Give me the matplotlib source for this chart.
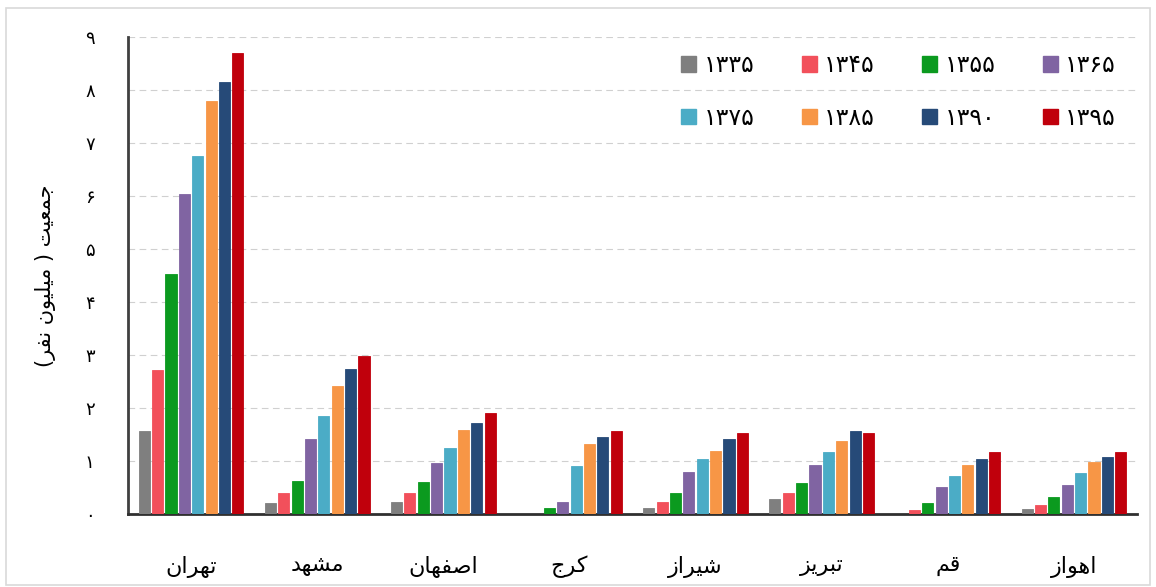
import matplotlib
matplotlib.use("Agg")
import matplotlib.pyplot as plt
from matplotlib.patches import Patch, Rectangle
import numpy as np

# city population by census year (million people)
cities = ["تهران", "مشهد", "اصفهان", "کرج", "شیراز", "تبریز", "قم", "اهواز"]
years = ["۱۳۳۵", "۱۳۴۵", "۱۳۵۵", "۱۳۶۵", "۱۳۷۵", "۱۳۸۵", "۱۳۹۰", "۱۳۹۵"]
pop_1335 = [1.56, 0.20, 0.23, 0.00, 0.12, 0.28, 0.00, 0.10]
pop_1345 = [2.72, 0.40, 0.40, 0.00, 0.22, 0.39, 0.07, 0.16]
pop_1355 = [4.53, 0.62, 0.61, 0.11, 0.39, 0.58, 0.20, 0.32]
pop_1365 = [6.04, 1.42, 0.97, 0.22, 0.80, 0.92, 0.51, 0.55]
pop_1375 = [6.76, 1.85, 1.25, 0.91, 1.04, 1.16, 0.72, 0.77]
pop_1385 = [7.80, 2.41, 1.58, 1.32, 1.19, 1.38, 0.92, 0.99]
pop_1390 = [8.16, 2.73, 1.72, 1.45, 1.42, 1.57, 1.04, 1.08]
pop_1395 = [8.70, 2.98, 1.91, 1.57, 1.53, 1.53, 1.16, 1.16]
series = [pop_1335, pop_1345, pop_1355, pop_1365, pop_1375, pop_1385, pop_1390, pop_1395]
colors = ["#7f7f7f", "#f2505b", "#0b9a1f", "#8064a2", "#4bacc6", "#f79646", "#264a78", "#c0000c"]
y_ticks = [0, 1, 2, 3, 4, 5, 6, 7, 8, 9]
y_label = "جمعیت ( میلیون نفر)"

# matplotlib does no arabic shaping, so map letters to presentation forms by hand
# (isolated, final, initial, medial)
FORMS = {
    "ا": ("\uFE8D", "\uFE8E"), "د": ("\uFEA9", "\uFEAA"), "ر": ("\uFEAD", "\uFEAE"),
    "ز": ("\uFEAF", "\uFEB0"), "و": ("\uFEED", "\uFEEE"),
    "ب": ("\uFE8F", "\uFE90", "\uFE91", "\uFE92"), "ت": ("\uFE95", "\uFE96", "\uFE97", "\uFE98"),
    "ج": ("\uFE9D", "\uFE9E", "\uFE9F", "\uFEA0"), "ش": ("\uFEB5", "\uFEB6", "\uFEB7", "\uFEB8"),
    "ص": ("\uFEB9", "\uFEBA", "\uFEBB", "\uFEBC"), "ع": ("\uFEC9", "\uFECA", "\uFECB", "\uFECC"),
    "ف": ("\uFED1", "\uFED2", "\uFED3", "\uFED4"), "ق": ("\uFED5", "\uFED6", "\uFED7", "\uFED8"),
    "ل": ("\uFEDD", "\uFEDE", "\uFEDF", "\uFEE0"), "م": ("\uFEE1", "\uFEE2", "\uFEE3", "\uFEE4"),
    "ن": ("\uFEE5", "\uFEE6", "\uFEE7", "\uFEE8"), "ه": ("\uFEE9", "\uFEEA", "\uFEEB", "\uFEEC"),
    "ک": ("\uFB8E", "\uFB8F", "\uFB90", "\uFB91"), "ی": ("\uFBFC", "\uFBFD", "\uFBFE", "\uFBFF"),
}


def fa(text):
    out = []
    for i, ch in enumerate(text):
        if ch not in FORMS:
            out.append(ch)
            continue
        prev = text[i - 1] if i > 0 else ""
        nxt = text[i + 1] if i + 1 < len(text) else ""
        jp = prev in FORMS and len(FORMS[prev]) == 4
        jn = len(FORMS[ch]) == 4 and nxt in FORMS
        f = FORMS[ch]
        if jp and jn:
            out.append(f[3])
        elif jp:
            out.append(f[1])
        elif jn:
            out.append(f[2])
        else:
            out.append(f[0])
    vis = "".join(out)[::-1]
    return vis.translate(str.maketrans("()", ")("))


persian_digits = "۰۱۲۳۴۵۶۷۸۹"

plt.rcParams["font.family"] = ["DejaVu Sans"]
fig = plt.figure(figsize=(11.56, 5.87), dpi=100)
fig.patches.append(Rectangle((0.005, 0.004), 0.99, 0.982, transform=fig.transFigure,
                             fill=False, edgecolor="#d9d9d9", linewidth=1.2))
ax = fig.add_axes([0.1107, 0.1244, 0.8729, 0.8126])

x = np.arange(len(cities))
pitch = 0.106
width = 0.088
for i, vals in enumerate(series):
    ax.bar(x + (i - 3.5) * pitch, vals, width, color=colors[i],
           edgecolor=colors[i], linewidth=0.6, zorder=3)

ax.set_xlim(-0.5, len(cities) - 0.5)
ax.set_ylim(0, 9)
ax.set_yticks(y_ticks)
ax.set_yticklabels([persian_digits[v] for v in y_ticks], fontsize=13)
ax.set_xticks(x)
ax.set_xticklabels([fa(c) for c in cities], fontsize=16)
ax.tick_params(axis="y", length=0, pad=24)
ax.tick_params(axis="x", length=0, pad=30)
ax.set_ylabel(fa(y_label), fontsize=15, labelpad=21)

ax.yaxis.grid(True, color="#d0d0d0", linestyle=(0, (6, 4)), linewidth=0.8, zorder=0)
for s in ["top", "right"]:
    ax.spines[s].set_visible(False)
ax.spines["left"].set_color("#404040")
ax.spines["left"].set_linewidth(2)
ax.spines["bottom"].set_color("#303030")
ax.spines["bottom"].set_linewidth(2)

handles = [Patch(facecolor=c, edgecolor=c) for c in colors]
order = [0, 4, 1, 5, 2, 6, 3, 7]
ax.legend([handles[k] for k in order], [years[k] for k in order], ncol=4,
          loc="upper right", bbox_to_anchor=(1.0, 1.01), frameon=False, fontsize=17,
          handlelength=0.65, handleheight=0.65, handletextpad=0.3, labelspacing=1.2,
          columnspacing=2.0)

fig.savefig("out.png", dpi=100)
